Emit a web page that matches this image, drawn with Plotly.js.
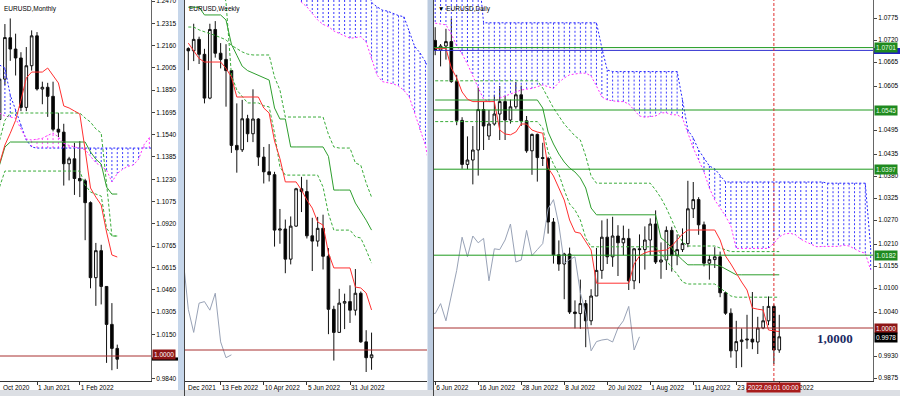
<!DOCTYPE html>
<html><head><meta charset="utf-8">
<script src="https://cdn.plot.ly/plotly-3.0.1.min.js"></script>
<style>html,body{margin:0;padding:0;background:#fff;}#chart{width:900px;height:396px;}</style>
</head><body><div id="chart"></div>
<script>
// ================= MONTHLY (left panel) : index m, 0 = Jun 2021, first = Nov 2020 (-7)
const monthStart = -7;
const mOpen  = [1.1646,1.1927,1.2215,1.2136,1.2074,1.1730,1.2020,1.2228,1.1858,1.1870,1.1807,1.1578,1.1558,1.1338,1.1372,1.1235,1.1219,1.1067,1.0545,1.0733,1.0484,1.0220,1.0053];
const mHigh  = [1.2004,1.2310,1.2349,1.2243,1.2114,1.2150,1.2266,1.2254,1.1909,1.1901,1.1909,1.1692,1.1616,1.1386,1.1483,1.1495,1.1233,1.1076,1.0787,1.0774,1.0486,1.0368,1.0079];
const mLow   = [1.1603,1.1886,1.2054,1.1952,1.1704,1.1704,1.1986,1.1847,1.1752,1.1664,1.1563,1.1524,1.1186,1.1222,1.1121,1.1106,1.0806,1.0471,1.0349,1.0359,0.9952,0.9901,0.9910];
const mClose = [1.1927,1.2216,1.2136,1.2074,1.1730,1.2020,1.2228,1.1858,1.1870,1.1807,1.1578,1.1558,1.1338,1.1372,1.1235,1.1219,1.1067,1.0545,1.0733,1.0484,1.0220,1.0053,0.9978];
const mTenkan = [1.1340,1.1468,1.1550,1.1640,1.1780,1.1935,1.1976,1.1976,1.1976,1.2004,1.1955,1.1900,1.1740,1.1726,1.1705,1.1684,1.1434,1.1169,1.1106,1.1051,1.0863,1.0703,1.0689];
const mKijun  = [1.1330,1.1454,1.1489,1.1489,1.1489,1.1489,1.1489,1.1489,1.1489,1.1489,1.1489,1.1489,1.1489,1.1489,1.1489,1.1489,1.1489,1.1420,1.1370,1.1336,1.1176,1.1127,1.1127];
const mDashA  = [1.1500,1.1640,1.1691,1.1691,1.1691,1.1691,1.1691,1.1691,1.1691,1.1691,1.1691,1.1691,1.1691,1.1691,1.1691,1.1691,1.1656,1.1628,1.1580,1.1552,1.1200,1.0835,1.0835];
const mDashB  = [1.1176,1.1287,1.1287,1.1287,1.1287,1.1287,1.1287,1.1287,1.1287,1.1287,1.1287,1.1287,1.1287,1.1287,1.1287,1.1287,1.1190,1.1141,1.1127,1.1113,1.0891,1.0835,1.0835];
// cloud (m -7 .. 22)
const mSpanA = [1.2025,1.2004,1.1816,1.1712,1.1608,1.1503,1.1454,1.1447,1.1447,1.1447,1.1447,1.1447,1.1447,1.1447,1.1447,1.1447,1.1447,1.1447,1.1447,1.1447,1.1447,1.1447,1.1447,1.1447,1.1447,1.1447,1.1447,1.1447,1.1447,1.1447];
const mSpanB = [1.1691,1.1670,1.1663,1.1655,1.1580,1.1510,1.1503,1.1508,1.1515,1.1535,1.1552,1.1524,1.1480,1.1465,1.1455,1.1445,1.1436,1.1390,1.1345,1.1320,1.1294,1.1211,1.1270,1.1300,1.1320,1.1329,1.1370,1.1470,1.1520,1.1550];
const mTickVals = [0, 8];
const mTickText = ['1 Jun 2021', '1 Feb 2022'];
const mAxisTicks = [1.2470,1.2315,1.2160,1.2005,1.1850,1.1695,1.1540,1.1385,1.1230,1.1075,1.0920,1.0765,1.0615,1.0460,1.0305,1.0150,0.9840];

// ================= WEEKLY (middle) : index w, 0 = week of 31 Jul 2022, first = -30
const weekStart = -30;
const wOpen  = [1.1370,1.1360,1.1412,1.1344,1.1145,1.1457,1.1349,1.1321,1.1270,1.0930,1.0910,1.1051,1.0983,1.1050,1.0877,1.0810,1.0797,1.0545,1.0550,1.0413,1.0563,1.0733,1.0720,1.0519,1.0495,1.0553,1.0426,1.0185,1.0080,1.0213,1.0220,1.0181,1.0258,1.0037,0.9965];
const wHigh  = [1.1376,1.1483,1.1424,1.1369,1.1483,1.1495,1.1395,1.1390,1.1272,1.1121,1.1137,1.1069,1.1185,1.1054,1.0923,1.0936,1.0810,1.0641,1.0593,1.0607,1.0737,1.0787,1.0774,1.0601,1.0605,1.0615,1.0463,1.0201,1.0278,1.0256,1.0294,1.0368,1.0266,1.0090,1.0079];
const wLow   = [1.1272,1.1313,1.1300,1.1121,1.1140,1.1329,1.1280,1.1106,1.0896,1.0806,1.0900,1.0945,1.0945,1.0837,1.0757,1.0766,1.0470,1.0483,1.0349,1.0389,1.0560,1.0627,1.0507,1.0359,1.0470,1.0366,1.0072,0.9952,1.0080,1.0095,1.0123,1.0157,1.0033,0.9900,0.9910];
const wClose = [1.1360,1.1412,1.1344,1.1145,1.1457,1.1349,1.1321,1.1270,1.0930,1.0910,1.1051,1.0983,1.1050,1.0877,1.0810,1.0797,1.0545,1.0550,1.0413,1.0563,1.0733,1.0720,1.0519,1.0495,1.0553,1.0426,1.0185,1.0080,1.0213,1.0220,1.0181,1.0258,1.0037,0.9965,0.9978];
const wTenkan = [1.1395,1.1360,1.1325,1.1309,1.1309,1.1309,1.1309,1.1280,1.1241,1.1150,1.1150,1.1150,1.1150,1.1150,1.1100,1.1077,1.0950,1.0870,1.0764,1.0764,1.0764,1.0727,1.0682,1.0645,1.0582,1.0568,1.0441,1.0373,1.0373,1.0373,1.0373,1.0286,1.0282,1.0259,1.0182];
const wKijun  = [1.1558,1.1558,1.1558,1.1523,1.1523,1.1523,1.1523,1.1500,1.1390,1.1340,1.1290,1.1270,1.1260,1.1250,1.1240,1.1227,1.1100,1.1050,1.1050,1.0923,1.0923,1.0923,1.0923,1.0923,1.0923,1.0923,1.0880,1.0727,1.0727,1.0727,1.0727,1.0668,1.0630,1.0590,1.0545];
const wDashA  = [1.1468,1.1468,1.1455,1.1445,1.1438,1.1430,1.1420,1.1410,1.1385,1.1370,1.1355,1.1345,1.1341,1.1341,1.1341,1.1341,1.1240,1.1182,1.1059,1.1059,1.1059,1.1059,1.1059,1.1059,1.1059,1.1059,1.0980,1.0923,1.0918,1.0918,1.0918,1.0850,1.0840,1.0759,1.0695];
const wDashB  = [1.1700,1.1700,1.1700,1.1700,1.1700,1.1700,1.1700,1.1580,1.1250,1.1182,1.1150,1.1123,1.1123,1.1123,1.1110,1.1105,1.0986,1.0832,1.0795,1.0795,1.0795,1.0795,1.0795,1.0795,1.0795,1.0741,1.0620,1.0545,1.0545,1.0545,1.0545,1.0515,1.0509,1.0455,1.0395];
// cloud (w -12 .. 15)
const wCloudStart = -12;
const wSpanA = [1.1700,1.1700,1.1700,1.1700,1.1700,1.1700,1.1700,1.1700,1.1700,1.1700,1.1700,1.1700,1.1700,1.1700,1.1700,1.1700,1.1580,1.1560,1.1545,1.1540,1.1530,1.1520,1.1515,1.1450,1.1380,1.1350,1.1310,1.1270];
const wSpanB = [1.1750,1.1700,1.1650,1.1580,1.1560,1.1530,1.1500,1.1480,1.1470,1.1450,1.1440,1.1430,1.1417,1.1420,1.1424,1.1400,1.1320,1.1250,1.1220,1.1215,1.1210,1.1200,1.1180,1.1150,1.1080,1.1000,1.0930,1.0800];
const wTickVals = [-24, -16, -8, 0];
const wTickText = ['13 Feb 2022', '10 Apr 2022', '5 Jun 2022', '31 Jul 2022'];

// ================= DAILY (right) : index d, 0 = 6 Jun 2022
const dOpen  = [1.0719,1.0695,1.0705,1.0716,1.0616,1.0519,1.0409,1.0420,1.0445,1.0546,1.0480,1.0510,1.0535,1.0566,1.0520,1.0553,1.0583,1.0518,1.0443,1.0484,1.0426,1.0424,1.0265,1.0183,1.0160,1.0185,1.0040,1.0036,1.0061,1.0018,1.0080,1.0144,1.0227,1.0178,1.0230,1.0213,1.0224,1.0118,1.0198,1.0196,1.0220,1.0260,1.0165,1.0170,1.0244,1.0181,1.0196,1.0211,1.0298,1.0321,1.0258,1.0162,1.0171,1.0178,1.0088,1.0037,0.9943,0.9966,0.9970,0.9972,0.9965,1.0000,1.0018,1.0054,0.9945];
const dHigh  = [1.0752,1.0710,1.0748,1.0774,1.0633,1.0527,1.0479,1.0505,1.0601,1.0566,1.0545,1.0583,1.0605,1.0580,1.0571,1.0615,1.0606,1.0530,1.0486,1.0486,1.0463,1.0428,1.0275,1.0219,1.0188,1.0201,1.0069,1.0121,1.0070,1.0097,1.0200,1.0269,1.0273,1.0278,1.0257,1.0256,1.0248,1.0200,1.0234,1.0254,1.0274,1.0294,1.0214,1.0254,1.0253,1.0234,1.0249,1.0368,1.0365,1.0327,1.0266,1.0182,1.0202,1.0191,1.0091,1.0049,1.0018,0.9999,1.0033,1.0090,1.0028,1.0055,1.0079,1.0059,1.0033];
const dLow   = [1.0682,1.0654,1.0671,1.0613,1.0507,1.0398,1.0397,1.0359,1.0381,1.0445,1.0470,1.0506,1.0470,1.0470,1.0511,1.0548,1.0505,1.0438,1.0383,1.0366,1.0405,1.0236,1.0161,1.0143,1.0072,1.0035,0.9999,0.9998,0.9952,1.0007,1.0080,1.0123,1.0160,1.0153,1.0130,1.0182,1.0095,1.0097,1.0112,1.0146,1.0182,1.0160,1.0123,1.0145,1.0141,1.0157,1.0190,1.0202,1.0275,1.0233,1.0154,1.0121,1.0150,1.0077,1.0033,0.9926,0.9900,0.9902,0.9948,0.9947,0.9935,0.9997,1.0007,0.9910,0.9938];
const dClose = [1.0695,1.0705,1.0716,1.0616,1.0519,1.0409,1.0420,1.0445,1.0546,1.0505,1.0510,1.0535,1.0566,1.0520,1.0553,1.0583,1.0518,1.0443,1.0484,1.0426,1.0424,1.0265,1.0183,1.0160,1.0185,1.0040,1.0036,1.0061,1.0018,1.0080,1.0144,1.0227,1.0178,1.0230,1.0213,1.0224,1.0118,1.0198,1.0196,1.0220,1.0260,1.0165,1.0170,1.0244,1.0181,1.0196,1.0211,1.0298,1.0321,1.0258,1.0162,1.0171,1.0178,1.0088,1.0037,0.9943,0.9966,0.9970,0.9972,0.9965,1.0000,1.0018,1.0054,0.9945,0.9978];
const dTenkan = [1.0699,1.0699,1.0699,1.0650,1.0625,1.0590,1.0572,1.0566,1.0566,1.0566,1.0566,1.0566,1.0495,1.0485,1.0483,1.0490,1.0510,1.0510,1.0495,1.0490,1.0487,1.0400,1.0380,1.0350,1.0320,1.0270,1.0240,1.0237,1.0215,1.0195,1.0112,1.0112,1.0112,1.0112,1.0112,1.0112,1.0112,1.0160,1.0180,1.0188,1.0192,1.0192,1.0193,1.0195,1.0205,1.0220,1.0235,1.0245,1.0245,1.0245,1.0245,1.0245,1.0245,1.0220,1.0180,1.0160,1.0137,1.0115,1.0095,1.0050,1.0047,1.0045,0.9995,0.9993,0.9991];
const dKijun  = [1.0570,1.0570,1.0570,1.0570,1.0570,1.0570,1.0570,1.0570,1.0570,1.0570,1.0570,1.0570,1.0570,1.0570,1.0570,1.0570,1.0570,1.0570,1.0570,1.0570,1.0550,1.0490,1.0460,1.0435,1.0415,1.0400,1.0390,1.0375,1.0350,1.0300,1.0283,1.0283,1.0283,1.0283,1.0283,1.0283,1.0283,1.0283,1.0283,1.0283,1.0283,1.0283,1.0225,1.0215,1.0200,1.0183,1.0170,1.0158,1.0158,1.0158,1.0158,1.0158,1.0158,1.0155,1.0148,1.0140,1.0133,1.0133,1.0133,1.0133,1.0133,1.0133,1.0133,1.0133,1.0133];
const dDashA  = [1.0618,1.0618,1.0618,1.0618,1.0618,1.0618,1.0618,1.0618,1.0618,1.0618,1.0618,1.0618,1.0618,1.0618,1.0618,1.0618,1.0618,1.0618,1.0618,1.0618,1.0600,1.0575,1.0550,1.0530,1.0510,1.0495,1.0480,1.0470,1.0430,1.0380,1.0362,1.0362,1.0362,1.0362,1.0362,1.0362,1.0362,1.0362,1.0362,1.0362,1.0362,1.0345,1.0325,1.0300,1.0270,1.0240,1.0215,1.0205,1.0205,1.0205,1.0205,1.0205,1.0205,1.0200,1.0195,1.0191,1.0191,1.0191,1.0191,1.0191,1.0191,1.0191,1.0191,1.0191,1.0191];
const dDashB  = [1.0516,1.0516,1.0516,1.0516,1.0516,1.0516,1.0516,1.0516,1.0516,1.0516,1.0516,1.0516,1.0516,1.0516,1.0516,1.0516,1.0516,1.0516,1.0516,1.0516,1.0500,1.0440,1.0410,1.0385,1.0345,1.0310,1.0295,1.0270,1.0225,1.0203,1.0203,1.0203,1.0203,1.0203,1.0203,1.0203,1.0203,1.0203,1.0203,1.0203,1.0203,1.0203,1.0185,1.0170,1.0150,1.0135,1.0115,1.0110,1.0110,1.0110,1.0110,1.0110,1.0110,1.0100,1.0090,1.0080,1.0077,1.0077,1.0077,1.0077,1.0077,1.0077,1.0077,1.0077,1.0077];
// cloud (d 0 .. 81)
const dSpanA = [1.0900,1.0900,1.0900,1.0900,1.0900,1.0900,1.0900,1.0900,1.0900,1.0763,1.0763,1.0763,1.0763,1.0763,1.0763,1.0763,1.0763,1.0763,1.0763,1.0763,1.0763,1.0763,1.0763,1.0763,1.0763,1.0763,1.0763,1.0763,1.0763,1.0763,1.0763,1.0700,1.0645,1.0641,1.0641,1.0641,1.0641,1.0641,1.0641,1.0641,1.0641,1.0641,1.0641,1.0641,1.0641,1.0641,1.0570,1.0495,1.0475,1.0445,1.0425,1.0405,1.0398,1.0380,1.0365,1.0365,1.0365,1.0365,1.0365,1.0365,1.0365,1.0365,1.0365,1.0365,1.0365,1.0365,1.0365,1.0365,1.0365,1.0365,1.0365,1.0365,1.0365,1.0362,1.0362,1.0362,1.0362,1.0362,1.0362,1.0362,1.0362,1.0200];
const dSpanB = [1.0762,1.0760,1.0758,1.0735,1.0705,1.0685,1.0660,1.0630,1.0600,1.0572,1.0566,1.0566,1.0575,1.0580,1.0585,1.0590,1.0595,1.0597,1.0599,1.0603,1.0608,1.0603,1.0599,1.0614,1.0625,1.0633,1.0635,1.0637,1.0637,1.0630,1.0605,1.0578,1.0570,1.0568,1.0566,1.0566,1.0560,1.0545,1.0530,1.0527,1.0528,1.0530,1.0538,1.0538,1.0533,1.0533,1.0525,1.0485,1.0450,1.0420,1.0390,1.0350,1.0320,1.0300,1.0280,1.0255,1.0199,1.0199,1.0199,1.0199,1.0199,1.0199,1.0199,1.0212,1.0228,1.0235,1.0237,1.0233,1.0222,1.0215,1.0208,1.0203,1.0204,1.0204,1.0204,1.0204,1.0207,1.0205,1.0198,1.0191,1.0187,1.0145];
const dTickVals = [0, 8, 16, 24, 32, 40, 48, 56, 64];
const dTickText = ['6 Jun 2022','16 Jun 2022','28 Jun 2022','8 Jul 2022','20 Jul 2022','1 Aug 2022','11 Aug 2022','23 Aug 2022','2 Sep 2022'];
const dAxisTicks = [1.0775,1.0720,1.0665,1.0605,1.0495,1.0435,1.0380,1.0325,1.0270,1.0210,1.0155,1.0100,1.0040,0.9930,0.9875];
const dGreenLevels = [1.0701, 1.0545, 1.0397, 1.0182];
const dBlueLevel = 1.0694;
const parity = 1.0000;
const lastPrice = 0.9978;
const cursorIndex = 63;
const cursorLabel = '2022.09.01 00:00';
const chinkouShift = 26;

// ================= helpers
const idx = (arr, start) => arr.map((_, i) => i + start);
const yb = 15/396;
const F = {family:'Liberation Sans, Arial, sans-serif', size:6.5, color:'#000'};
const C = {red:'#ff3030', kij:'#2e9e2e', dash:'#3aac3a', blue:'#2222ff', mag:'#ff30ff', chk:'#98a2b6', par:'#a83030', lvl:'#1e9a1e'};

function candles(x, o, h, l, c, xa, ya){
  return {type:'candlestick', x, open:o, high:h, low:l, close:c, xaxis:xa, yaxis:ya, hoverinfo:'skip',
    whiskerwidth:0,
    increasing:{line:{color:'#111', width:1}, fillcolor:'#ffffff'},
    decreasing:{line:{color:'#111', width:1}, fillcolor:'#000000'}};
}
function line(x, y, xa, ya, color, dash){
  return {type:'scatter', mode:'lines', x, y, xaxis:xa, yaxis:ya, hoverinfo:'skip',
    line:{color, width:1, dash:dash||'solid'}};
}
function hatch(x, a, b, xa, ya){
  const up={x:[],y:[]}, dn={x:[],y:[]};
  x.forEach((xv,i)=>{ const t = a[i] >= b[i] ? up : dn; t.x.push(xv,xv,null); t.y.push(a[i],b[i],null); });
  return [line(up.x, up.y, xa, ya, '#3b3bff', '2px,2px'), line(dn.x, dn.y, xa, ya, '#ff44ff', '2px,2px')];
}
const dotted = '2px,2px', dashed = '3px,2px';

const traces = [];
// left
const mX = idx(mOpen, monthStart), mCX = idx(mSpanA, monthStart);
traces.push(...hatch(mCX, mSpanA, mSpanB, 'x', 'y'));
traces.push(line(mCX, mSpanA, 'x','y', C.blue, dotted), line(mCX, mSpanB, 'x','y', C.mag, dotted));
traces.push(line(mX, mDashA, 'x','y', C.dash, dashed), line(mX, mDashB, 'x','y', C.dash, dashed));
traces.push(candles(mX, mOpen, mHigh, mLow, mClose, 'x', 'y'));
traces.push(line(mX, mKijun, 'x','y', C.kij), line(mX, mTenkan, 'x','y', C.red));
// middle
const wX = idx(wOpen, weekStart), wCX = idx(wSpanA, wCloudStart);
traces.push(...hatch(wCX, wSpanA, wSpanB, 'x2', 'y2'));
traces.push(line(wCX, wSpanA, 'x2','y2', C.blue, dotted), line(wCX, wSpanB, 'x2','y2', C.mag, dotted));
traces.push(line(wX.map(v=>v-chinkouShift), wClose, 'x2','y2', C.chk));
traces.push(line(wX, wDashA, 'x2','y2', C.dash, dashed), line(wX, wDashB, 'x2','y2', C.dash, dashed));
traces.push(candles(wX, wOpen, wHigh, wLow, wClose, 'x2', 'y2'));
traces.push(line(wX, wKijun, 'x2','y2', C.kij), line(wX, wTenkan, 'x2','y2', C.red));
// right
const dX = idx(dOpen, 0), dCX = idx(dSpanA, 0);
traces.push(...hatch(dCX, dSpanA, dSpanB, 'x3', 'y3'));
traces.push(line(dCX, dSpanA, 'x3','y3', C.blue, dotted), line(dCX, dSpanB, 'x3','y3', C.mag, dotted));
traces.push(line(dX.map(v=>v-chinkouShift), dClose, 'x3','y3', C.chk));
traces.push(line(dX, dDashA, 'x3','y3', C.dash, dashed), line(dX, dDashB, 'x3','y3', C.dash, dashed));
traces.push(candles(dX, dOpen, dHigh, dLow, dClose, 'x3', 'y3'));
traces.push(line(dX, dKijun, 'x3','y3', C.kij), line(dX, dTenkan, 'x3','y3', C.red));

function xax(domain, range, anchor, tv, tt){
  return {domain, range, anchor, showgrid:false, zeroline:false, showline:true, linecolor:'#333', linewidth:1,
    ticks:'outside', ticklen:3, tickcolor:'#333', tickvals:tv, ticktext:tt, tickfont:F, tickangle:0,
    ticklabelposition:'outside right', rangeslider:{visible:false}, fixedrange:true};
}
function yax(range, anchor, side, tv, show){
  return {domain:[yb,1], range, anchor, side, showgrid:false, zeroline:false, showline:true, linecolor:'#666', linewidth:1,
    ticks: show ? 'outside' : '', ticklen:3, tickcolor:'#444', tickvals:tv, ticktext: tv ? tv.map(v=>v.toFixed(4)) : undefined,
    showticklabels: !!show, tickfont:F, ticklabeloverflow:'allow', fixedrange:true};
}

const shapes = [];
const P = v => v/900;
// window frames
shapes.push({type:'rect', xref:'paper', yref:'paper', x0:P(178), x1:P(184), y0:0, y1:1, fillcolor:'#c6d6ea', line:{width:0}, layer:'below'});
shapes.push({type:'rect', xref:'paper', yref:'paper', x0:P(427.5), x1:P(433.5), y0:0, y1:1, fillcolor:'#bccbdf', line:{width:0}, layer:'below'});
shapes.push({type:'rect', xref:'paper', yref:'paper', x0:0, x1:1, y0:0, y1:6/396, fillcolor:'#dcdfe4', line:{width:0}, layer:'below'});
shapes.push({type:'line', xref:'paper', yref:'paper', x0:P(184.5), x1:P(184.5), y0:0, y1:1, line:{color:'#444', width:1}});
shapes.push({type:'line', xref:'paper', yref:'paper', x0:P(433.5), x1:P(433.5), y0:0, y1:1, line:{color:'#444', width:1}});
// levels
[['x','y'],['x2','y2'],['x3','y3']].forEach(([xa,ya])=>{
  shapes.push({type:'line', xref:xa+' domain', yref:ya, x0:0, x1:1, y0:parity, y1:parity, line:{color:C.par, width:1}});
});
dGreenLevels.forEach(v=>shapes.push({type:'line', xref:'x3 domain', yref:'y3', x0:0, x1:1, y0:v, y1:v, line:{color:C.lvl, width:1}}));
shapes.push({type:'line', xref:'x3 domain', yref:'y3', x0:0, x1:1, y0:dBlueLevel, y1:dBlueLevel, line:{color:'#3030d0', width:1}});
shapes.push({type:'line', xref:'x3', yref:'y3 domain', x0:cursorIndex, x1:cursorIndex, y0:0, y1:1, line:{color:'#e03030', width:1, dash:'3px,2px'}});
// price-box backings peeking out under the labelled boxes (blue level on right, last price on left)
shapes.push({type:'rect', xref:'paper', yref:'y3', x0:P(874), x1:P(900), y0:dBlueLevel-0.0009, y1:dBlueLevel+0.0006, fillcolor:'#2020c0', line:{width:0}});
shapes.push({type:'rect', xref:'paper', yref:'y', x0:P(152), x1:P(178), y0:lastPrice-0.0010, y1:lastPrice+0.0012, fillcolor:'#000', line:{width:0}});

const ann = [];
const T = (text, x, extra) => Object.assign({text, x, xref:'paper', y:1-3/396, yref:'paper', xanchor:'left', yanchor:'top', showarrow:false, font:F}, extra||{});
ann.push(T('EURUSD,Monthly', P(2)), T('EURUSD,Weekly', P(187)), T('▼ EURUSD,Daily', P(436)));
// clipped first date labels
const yLab = (396-387)/396;
ann.push({text:'Oct 2020', x:P(1), xref:'paper', y:yLab, yref:'paper', xanchor:'left', yanchor:'middle', showarrow:false, font:F});
ann.push({text:'Dec 2021', x:P(186), xref:'paper', y:yLab, yref:'paper', xanchor:'left', yanchor:'middle', showarrow:false, font:F});
// price boxes
const box = (text, y, ya, xpx, bg, fg) => ({text, x:P(xpx), xref:'paper', y, yref:ya, xanchor:'left', yanchor:'middle', showarrow:false,
  font:{family:F.family, size:6.5, color:fg||'#fff'}, bgcolor:bg, borderpad:1});
ann.push(box(parity.toFixed(4), parity+0.0008, 'y', 152, '#8e1616'));
dGreenLevels.forEach(v=>ann.push(box(v.toFixed(4), v, 'y3', 874, '#1f8a1f', '#e8ffe8')));
ann.push(box(parity.toFixed(4), parity, 'y3', 874, '#8e1616'));
ann.push(box(lastPrice.toFixed(4), lastPrice-0.0001, 'y3', 874, '#000'));
ann.push({text:cursorLabel, x:cursorIndex, xref:'x3', y:yLab, yref:'paper', xanchor:'center', yanchor:'middle', showarrow:false,
  font:{family:F.family, size:6.5, color:'#fff'}, bgcolor:'#a81c1c', borderpad:1});
ann.push({text:'<b>1,0000</b>', x:74.3, xref:'x3', y:parity-0.0025, yref:'y3', xanchor:'center', yanchor:'middle', showarrow:false,
  font:{family:'Liberation Serif, Times New Roman, serif', size:13, color:'#1b2a63'}});

const layout = {
  width:900, height:396, margin:{l:0,r:0,t:0,b:0}, paper_bgcolor:'#ffffff', plot_bgcolor:'#ffffff', showlegend:false,
  xaxis:  xax([0, P(151)], [-37/5.35, 114/5.35], 'y', mTickVals, mTickText),
  yaxis:  yax([0.98260, 1.24774], 'x', 'right', mAxisTicks, true),
  xaxis2: xax([P(185), P(427)], [(185-350)/5.39, (427-350)/5.39], 'y2', wTickVals, wTickText),
  yaxis2: yax([0.98591, 1.15909], 'x2', 'left', null, false),
  xaxis3: xax([P(434), P(873)], [-1.2/5.376, 437.8/5.376], 'y3', dTickVals, dTickText),
  yaxis3: yax([0.98675, 1.08200], 'x3', 'right', dAxisTicks, true),
  shapes, annotations: ann
};
Plotly.newPlot('chart', traces, layout, {staticPlot:true, displayModeBar:false});
</script></body></html>
